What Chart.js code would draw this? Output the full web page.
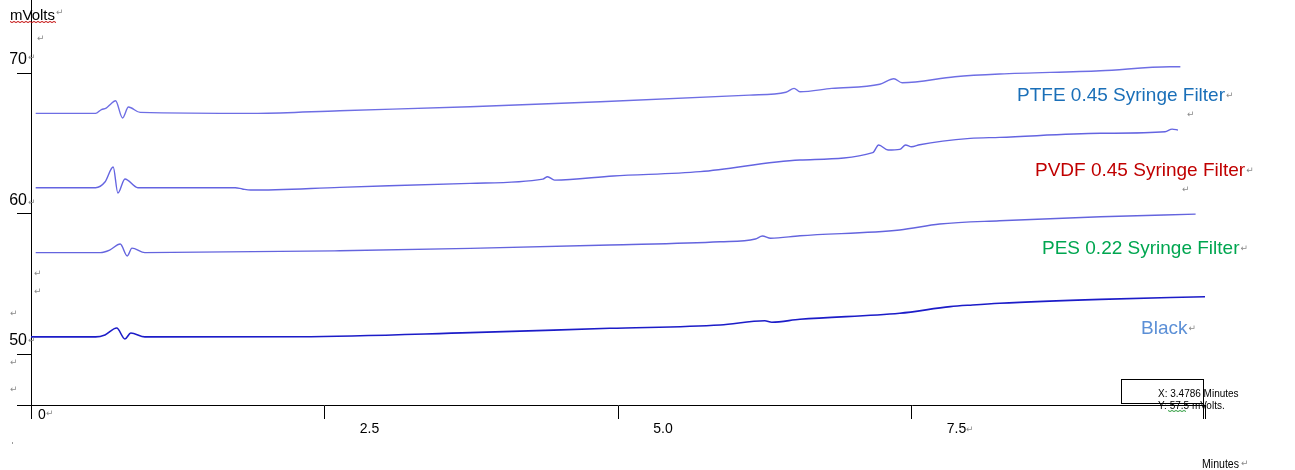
<!DOCTYPE html>
<html>
<head>
<meta charset="utf-8">
<script src="https://cdn.jsdelivr.net/npm/chart.js@4.4.1/dist/chart.umd.min.js"></script>
<style>
html, body { margin: 0; padding: 0; background: #fff; }
canvas { display: block; }
</style>
</head>
<body>
<canvas id="myChart" width="1295" height="470"></canvas>
<script>
// traces (time in minutes, signal in mVolts)
var ptfeMin = [0.04, 0.55, 0.60, 0.64, 0.68, 0.72, 0.78, 0.83, 0.93, 1.93, 2.63, 3.74, 4.85, 6.12, 6.43, 6.50, 6.55, 6.82, 7.23, 7.35, 7.42, 7.87, 8.25, 9.11, 9.70, 9.79];
var ptfeMv  = [67.13, 67.13, 67.40, 67.50, 67.80, 68.03, 66.80, 67.58, 67.20, 67.13, 67.32, 67.60, 67.96, 68.43, 68.63, 68.91, 68.67, 68.91, 69.20, 69.59, 69.31, 69.74, 69.93, 70.16, 70.45, 70.45];

var pvdfMin = [0.04, 0.55, 0.63, 0.70, 0.74, 0.80, 0.91, 1.74, 1.80, 1.87, 2.63, 3.74, 4.36, 4.40, 4.46, 4.96, 5.70, 6.55, 7.17, 7.22, 7.30, 7.40, 7.45, 7.50, 7.57, 8.00, 8.25, 9.11, 9.66, 9.72, 9.77];
var pvdfMv  = [61.84, 61.84, 62.24, 63.31, 61.46, 62.46, 61.84, 61.84, 61.75, 61.67, 61.86, 62.15, 62.45, 62.62, 62.38, 62.67, 62.98, 63.81, 64.33, 64.88, 64.52, 64.57, 64.88, 64.75, 64.90, 65.35, 65.42, 65.71, 65.82, 66.01, 65.94];

var pesMin = [0.04, 0.59, 0.67, 0.76, 0.82, 0.86, 0.97, 2.63, 3.74, 4.93, 5.87, 6.17, 6.23, 6.30, 6.55, 7.40, 7.74, 8.25, 9.11, 9.92];
var pesMv  = [57.22, 57.22, 57.40, 57.83, 56.98, 57.54, 57.22, 57.35, 57.52, 57.76, 57.99, 58.19, 58.40, 58.24, 58.42, 58.83, 59.25, 59.49, 59.77, 59.96];

var blackMin = [0, 0.55, 0.63, 0.73, 0.80, 0.85, 0.97, 2.29, 3.74, 4.93, 5.87, 6.25, 6.31, 6.55, 7.40, 7.83, 8.02, 8.25, 9.11, 10.0];
var blackMv  = [51.22, 51.22, 51.36, 51.85, 51.07, 51.49, 51.22, 51.23, 51.52, 51.83, 52.06, 52.37, 52.26, 52.47, 52.90, 53.37, 53.49, 53.61, 53.89, 54.08];

var seriesNames = ['PTFE 0.45 Syringe Filter', 'PVDF 0.45 Syringe Filter', 'PES 0.22 Syringe Filter', 'Black'];
var xTicks = [0, 2.5, 5.0, 7.5, 10];
var xTickLabels = ['', '2.5', '5.0', '7.5', ''];
var yTicks = [50, 60, 70];
var yMin = 46.37, yMax = 75.2;
var readout = ['X: 3.4786 Minutes', 'Y: 57.5 mVolts.'];

function toXY(mins, mv) {
    return mins.map(function (m, i) { return { x: m, y: mv[i] }; });
}

// little grey paragraph marks, like in the word doc
function retMark(ctx, x, y) {
    ctx.save();
    ctx.font = "9px 'DejaVu Sans'";
    ctx.fillStyle = '#8a8a8a';
    ctx.textBaseline = 'middle';
    ctx.textAlign = 'left';
    ctx.fillText('\u21B5', x, y);
    ctx.restore();
}

var wordText = {
    id: 'wordText',
    afterDraw: function (chart) {
        var ctx = chart.ctx;
        ctx.save();
        ctx.textBaseline = 'alphabetic';
        ctx.textAlign = 'left';

        // axis title top-left, with spellcheck squiggle
        ctx.font = "15px 'Liberation Sans'";
        ctx.fillStyle = '#000';
        ctx.fillText('mVolts', 10, 20);
        var w = ctx.measureText('mVolts').width;
        retMark(ctx, 11 + w, 13);
        ctx.strokeStyle = '#c00000';
        ctx.lineWidth = 1;
        ctx.beginPath();
        for (var i = 0; i <= Math.round(w / 2); i++) {
            var px = 10 + i * 2, py = 21.5 + (i % 2 ? 1 : 0);
            if (i === 0) ctx.moveTo(px, py); else ctx.lineTo(px, py);
        }
        ctx.stroke();

        // "0" on the x axis sits apart from the other labels
        ctx.font = "14px 'Liberation Sans'";
        ctx.fillStyle = '#000';
        ctx.fillText('0', 38, 419);
        retMark(ctx, 46, 414);

        // x axis unit
        ctx.save();
        ctx.font = "12px 'Liberation Sans'";
        ctx.translate(1202, 468);
        ctx.scale(0.88, 1);
        ctx.fillText('Minutes', 0, 0);
        ctx.restore();
        retMark(ctx, 1241, 464);

        // series names
        var labelCols = ['#1a6fb8', '#c00000', '#00a650', '#5b8fd6'];
        var labelX = [1017, 1035, 1042, 1141];
        var labelY = [101, 176, 254, 334];
        ctx.font = "19px 'Liberation Sans'";
        for (var k = 0; k < seriesNames.length; k++) {
            ctx.fillStyle = labelCols[k];
            ctx.fillText(seriesNames[k], labelX[k], labelY[k]);
            var tw = ctx.measureText(seriesNames[k]).width;
            retMark(ctx, labelX[k] + tw + 1, labelY[k] - 5);
        }

        // stray paragraph marks
        [[37, 39], [28, 58], [28, 203], [34, 274], [34, 292], [10, 314], [28, 341],
         [10, 363], [10, 390], [966, 430], [1187, 115], [1182, 190]].forEach(function (p) {
            retMark(ctx, p[0], p[1]);
        });
        ctx.fillStyle = '#9a9a9a';
        ctx.fillRect(12, 442, 1, 2);

        // cursor readout box
        ctx.strokeStyle = '#000';
        ctx.lineWidth = 1;
        ctx.strokeRect(1121.5, 379.5, 82, 24);
        ctx.beginPath();
        ctx.moveTo(1203.5, 403);
        ctx.lineTo(1203.5, 419);
        ctx.stroke();
        ctx.font = "10px 'Liberation Sans'";
        ctx.fillStyle = '#000';
        ctx.fillText(readout[0], 1158, 397);
        ctx.fillText(readout[1], 1158, 409);
        ctx.strokeStyle = '#2a9a3a';
        ctx.beginPath();
        for (var j = 0; j <= 9; j++) {
            var sx = 1168 + j * 2, sy = 410.5 + (j % 2 ? 1 : 0);
            if (j === 0) ctx.moveTo(sx, sy); else ctx.lineTo(sx, sy);
        }
        ctx.stroke();

        ctx.restore();
    }
};

var ctx = document.getElementById('myChart');
var lineCols = ['rgb(110,110,228)', 'rgb(100,100,225)', 'rgb(100,100,222)', 'rgb(28,28,200)'];
var traces = [toXY(ptfeMin, ptfeMv), toXY(pvdfMin, pvdfMv), toXY(pesMin, pesMv), toXY(blackMin, blackMv)];

var myChart = new Chart(ctx, {
    type: 'line',
    data: {
        datasets: traces.map(function (d, i) {
            return {
                label: seriesNames[i],
                data: d,
                borderColor: lineCols[i],
                borderWidth: i === 3 ? 1.6 : 1.4,
                pointRadius: 0,
                fill: false,
                cubicInterpolationMode: 'monotone'
            };
        })
    },
    options: {
        responsive: false,
        animation: false,
        events: [],
        layout: { padding: { left: 0, top: 0, right: 90, bottom: 0 } },
        plugins: {
            legend: { display: false },
            tooltip: { enabled: false }
        },
        scales: {
            x: {
                type: 'linear',
                min: 0,
                max: 10,
                afterBuildTicks: function (scale) {
                    scale.ticks = xTicks.map(function (v) { return { value: v }; });
                },
                afterFit: function (scale) {
                    scale.height = 65;
                    scale.paddingLeft = 0;
                    scale.paddingRight = 0;
                },
                grid: { drawOnChartArea: false, drawTicks: true, tickLength: 14, tickColor: '#000', tickWidth: 1 },
                border: { display: true, color: '#000', width: 1 },
                ticks: {
                    autoSkip: false,
                    maxRotation: 0,
                    padding: 2,
                    labelOffset: 45,
                    color: '#000',
                    font: { family: "'Liberation Sans'", size: 14 },
                    callback: function (value, index) { return xTickLabels[index]; }
                }
            },
            y: {
                type: 'linear',
                min: yMin,
                max: yMax,
                afterBuildTicks: function (scale) {
                    scale.ticks = [yMin].concat(yTicks).map(function (v) { return { value: v }; });
                },
                afterFit: function (scale) {
                    scale.width = 31;
                    scale.paddingTop = 0;
                    scale.paddingBottom = 0;
                },
                grid: { drawOnChartArea: false, drawTicks: true, tickLength: 14, tickColor: '#000', tickWidth: 1 },
                border: { display: true, color: '#000', width: 1 },
                ticks: {
                    padding: -10,
                    labelOffset: -13,
                    color: '#000',
                    font: { family: "'Liberation Sans'", size: 16 },
                    callback: function (value) { return yTicks.indexOf(value) >= 0 ? String(value) : ''; }
                }
            }
        }
    },
    plugins: [wordText]
});
</script>
</body>
</html>
